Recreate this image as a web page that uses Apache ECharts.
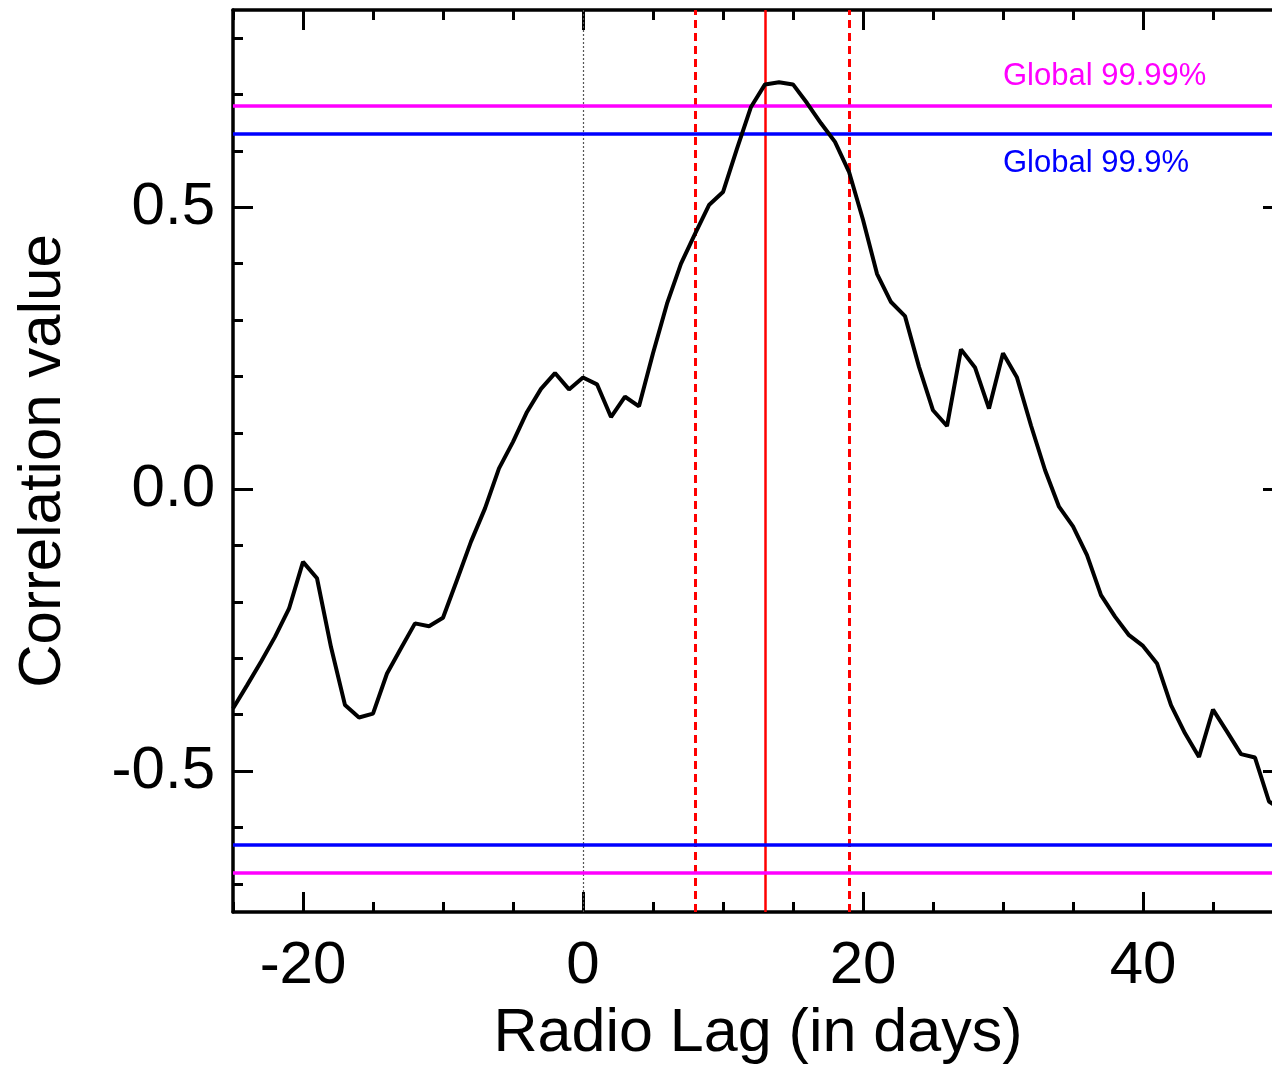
<!DOCTYPE html>
<html>
<head>
<meta charset="utf-8">
<script src="https://cdn.jsdelivr.net/npm/echarts@6/dist/echarts.min.js"></script>
<style>
  html, body { margin: 0; padding: 0; background: #fff; overflow: hidden; }
  #chart { width: 1290px; height: 1067px; }
</style>
</head>
<body>
<div id="chart"></div>
<script>
// radio lag in days
const lags = [
  -25, -24, -23, -22, -21, -20, -19, -18, -17, -16, -15, -14, -13, -12, -11, -10,
  -9, -8, -7, -6, -5, -4, -3, -2, -1, 0, 1, 2, 3, 4, 5, 6, 7, 8, 9, 10,
  11, 12, 13, 14, 15, 16, 17, 18, 19, 20, 21, 22, 23, 24, 25, 26, 27, 28, 29, 30,
  31, 32, 33, 34, 35, 36, 37, 38, 39, 40, 41, 42, 43, 44, 45, 46, 47, 48, 49, 50
]
// correlation value at each lag
const corr = [
  -0.389, -0.348, -0.306, -0.262, -0.212, -0.129, -0.158, -0.280, -0.383, -0.405, -0.398, -0.327, -0.282, -0.238, -0.243, -0.228,
  -0.161, -0.093, -0.034, 0.037, 0.084, 0.137, 0.178, 0.206, 0.177, 0.198, 0.186, 0.128, 0.164, 0.147, 0.241, 0.329, 0.400, 0.453, 0.504, 0.527,
  0.604, 0.678, 0.718, 0.722, 0.718, 0.685, 0.649, 0.616, 0.563, 0.478, 0.382, 0.332, 0.307, 0.217, 0.140, 0.112, 0.248, 0.216, 0.143, 0.241,
  0.198, 0.113, 0.034, -0.031, -0.066, -0.117, -0.188, -0.226, -0.259, -0.278, -0.309, -0.383, -0.433, -0.475, -0.391, -0.430, -0.470, -0.476, -0.554, -0.570
]

// significance levels
const global9999 = 0.684
const global999 = 0.633
// lag estimate and its range
const lagBest = 13
const lagRange = [8, 19]

// tick marks
const xMajorTicks = [-20, 0, 20, 40]
const xMinorTicks = [-25, -15, -10, -5, 5, 10, 15, 25, 30, 35, 45, 50]
const yMajorTicks = [-0.5, 0.0, 0.5]
const yMinorTicks = [-0.7, -0.6, -0.4, -0.3, -0.2, -0.1, 0.1, 0.2, 0.3, 0.4, 0.6, 0.7, 0.8]

const FONT = '"Liberation Sans", Arial, Helvetica, sans-serif'

const xRange = { min: -25, max: 50 }
const yRange = { min: -0.75, max: 0.85 }

const tickAxis = (kind, position, values, len, extra) => Object.assign({
  type: 'value',
  position: position,
  min: kind === 'x' ? xRange.min : yRange.min,
  max: kind === 'x' ? xRange.max : yRange.max,
  axisLine: { show: false, onZero: false },
  axisTick: {
    show: true,
    inside: true,
    length: len,
    customValues: values,
    lineStyle: { color: '#000', width: 3 },
  },
  axisLabel: { show: false },
  splitLine: { show: false },
}, extra || {})

const frame = { show: true, onZero: false, lineStyle: { color: '#000', width: 3.5 } }

const chart = echarts.init(document.getElementById('chart'))

const option = {
  backgroundColor: '#fff',
  animation: false,
  grid: { left: 233, top: 10, right: 7, bottom: 155, outerBoundsMode: 'none', containLabel: false },
  xAxis: [
    tickAxis('x', 'bottom', xMajorTicks, 20, {
      axisLine: frame,
      axisLabel: {
        show: true,
        customValues: xMajorTicks,
        color: '#000',
        fontFamily: FONT,
        fontSize: 60,
        margin: 24,
      },
      name: 'Radio Lag (in days)',
      nameLocation: 'middle',
      nameGap: 92,
      nameTextStyle: { color: '#000', fontFamily: FONT, fontSize: 61 },
    }),
    tickAxis('x', 'bottom', xMinorTicks, 10),
    tickAxis('x', 'top', xMajorTicks, 20, { axisLine: frame }),
    tickAxis('x', 'top', xMinorTicks, 10),
  ],
  yAxis: [
    tickAxis('y', 'left', yMajorTicks, 20, {
      axisLine: frame,
      axisLabel: {
        show: true,
        customValues: yMajorTicks,
        color: '#000',
        fontFamily: FONT,
        fontSize: 60,
        margin: 18,
        formatter: (v) => v.toFixed(1),
      },
      name: 'Correlation value',
      nameLocation: 'middle',
      nameGap: 160,
      nameTextStyle: { color: '#000', fontFamily: FONT, fontSize: 60 },
    }),
    tickAxis('y', 'left', yMinorTicks, 10),
    tickAxis('y', 'right', yMajorTicks, 20, { axisLine: frame }),
    tickAxis('y', 'right', yMinorTicks, 10),
  ],
  series: [
    {
      type: 'line',
      xAxisIndex: 0,
      yAxisIndex: 0,
      data: lags.map((l, i) => [l, corr[i]]),
      showSymbol: false,
      symbol: 'none',
      lineStyle: { color: '#000', width: 4 },
      z: 5,
      markLine: {
        silent: true,
        symbol: 'none',
        label: { show: false },
        animation: false,
        data: [
          { xAxis: 0, lineStyle: { color: '#555', width: 1.2, type: [2, 2] } },
          { xAxis: lagRange[0], lineStyle: { color: '#ff0000', width: 3, type: [8, 5] } },
          { xAxis: lagBest, lineStyle: { color: '#ff0000', width: 2.5, type: 'solid' } },
          { xAxis: lagRange[1], lineStyle: { color: '#ff0000', width: 3, type: [8, 5] } },
          { yAxis: global9999, lineStyle: { color: '#ff00ff', width: 3.5, type: 'solid' } },
          { yAxis: global999, lineStyle: { color: '#0000ff', width: 3.5, type: 'solid' } },
          { yAxis: -global999, lineStyle: { color: '#0000ff', width: 3.5, type: 'solid' } },
          { yAxis: -global9999, lineStyle: { color: '#ff00ff', width: 3.5, type: 'solid' } },
        ],
      },
    },
  ],
  graphic: [
    {
      type: 'text',
      x: 1003,
      y: 76,
      style: { text: 'Global 99.99%', fill: '#ff00ff', font: '31px ' + FONT, verticalAlign: 'middle' },
    },
    {
      type: 'text',
      x: 1003,
      y: 163,
      style: { text: 'Global 99.9%', fill: '#0000ff', font: '31px ' + FONT, verticalAlign: 'middle' },
    },
  ],
}

chart.setOption(option)
</script>
</body>
</html>
